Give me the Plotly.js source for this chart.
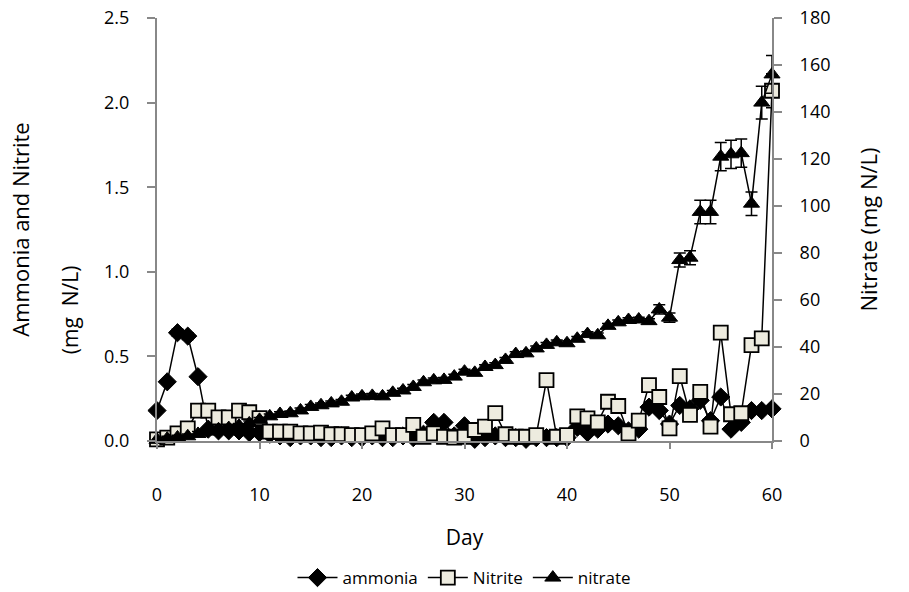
<!DOCTYPE html>
<html>
<head>
<meta charset="utf-8">
<script src="https://cdn.plot.ly/plotly-3.0.1.min.js"></script>
<style>html,body{margin:0;padding:0;background:#fff;}#chart{width:909px;height:592px;}</style>
</head>
<body>
<div id="chart"></div>
<script>
const days = [0,1,2,3,4,5,6,7,8,9,10,11,12,13,14,15,16,17,18,19,20,21,22,23,24,25,26,27,28,29,30,31,32,33,34,35,36,37,38,39,40,41,42,43,44,45,46,47,48,49,50,51,52,53,54,55,56,57,58,59,60];

const ammonia = [0.18,0.35,0.64,0.62,0.38,0.07,0.06,0.06,0.06,0.05,0.05,0.04,0.03,0.02,0.03,0.03,0.02,0.02,0.03,0.02,0.02,0.03,0.02,0.02,0.03,0.02,0.04,0.11,0.11,0.03,0.09,0.01,0.02,0.03,0.02,0.02,0.01,0.02,0.02,0.02,0.02,0.08,0.05,0.07,0.10,0.09,0.06,0.07,0.20,0.18,0.10,0.21,0.19,0.24,0.12,0.26,0.07,0.11,0.18,0.18,0.19];
const ammoniaErr = [0.01,0.01,0.02,0.02,0.01,0.01,0.01,0.01,0.01,0.01,0.01,0.01,0.01,0.01,0.01,0.01,0.01,0.01,0.01,0.01,0.01,0.01,0.01,0.01,0.01,0.01,0.01,0.01,0.01,0.01,0.01,0.01,0.01,0.01,0.01,0.01,0.01,0.01,0.01,0.01,0.01,0.01,0.01,0.01,0.01,0.01,0.01,0.01,0.01,0.01,0.01,0.01,0.01,0.01,0.01,0.01,0.01,0.01,0.01,0.01,0.01];

const nitrite = [0.01,0.02,0.045,0.075,0.18,0.18,0.14,0.14,0.18,0.17,0.135,0.055,0.055,0.055,0.045,0.045,0.05,0.04,0.04,0.035,0.035,0.045,0.075,0.035,0.035,0.095,0.025,0.045,0.025,0.02,0.025,0.065,0.085,0.165,0.04,0.025,0.025,0.035,0.36,0.025,0.035,0.145,0.134,0.11,0.232,0.207,0.045,0.12,0.33,0.26,0.075,0.384,0.154,0.29,0.085,0.64,0.158,0.164,0.567,0.607,2.07];
const nitriteErr = [0.01,0.01,0.01,0.01,0.01,0.01,0.01,0.01,0.01,0.01,0.01,0.01,0.01,0.01,0.01,0.01,0.01,0.01,0.01,0.01,0.01,0.01,0.01,0.01,0.01,0.01,0.01,0.01,0.01,0.01,0.01,0.01,0.01,0.01,0.01,0.01,0.01,0.01,0.01,0.01,0.01,0.01,0.01,0.01,0.01,0.01,0.01,0.01,0.01,0.01,0.01,0.01,0.01,0.01,0.01,0.01,0.01,0.01,0.02,0.03,0.10];

const nitrate = [0.5,1,1.5,2,3,4,5,5.5,6.5,7.5,9,10.5,11.5,11.8,13,14.5,15.2,16,16.7,18.5,19,19.2,19,20.5,21.5,23,25,25.8,26,27.4,29.5,29,31.5,32.3,34.5,37,37.3,39.4,40.9,42,41.6,43.5,45.5,45,49,50.5,51.5,51.7,51,56,52.5,77,78,97.5,97.5,121,122,122.5,101,144,156];
const nitrateErr = [1,1,1,1,1,1,1,1,1,1,1,1,1,1,1,1,1,1,1,1,1,1,1,1,1,1,1,1,1,1,1,1,1,1,1,1,1,1,1,1,1,1,1,1,1,1,1,1,1,2,2,3,3,5,5,6,6,6,5,7,8];

const leftTicks = [0,0.5,1,1.5,2,2.5];
const rightTicks = [0,20,40,60,80,100,120,140,160,180];
const xTicks = [0,10,20,30,40,50,60];

const FONT = "Open Sans, Lato, sans-serif";
const errStyle = {type:'data', visible:true, color:'#000', thickness:1.5, width:6};

const traces = [
  {x: days, y: ammonia, name: 'ammonia', type:'scatter', mode:'lines+markers', yaxis:'y', cliponaxis:false,
   line:{color:'#000', width:1.5},
   marker:{symbol:'diamond', size:14, color:'#000', line:{color:'#000', width:1}},
   error_y: Object.assign({array: ammoniaErr}, errStyle)},
  {x: days, y: nitrite, name: 'Nitrite', type:'scatter', mode:'lines+markers', yaxis:'y', cliponaxis:false,
   line:{color:'#000', width:1.5},
   marker:{symbol:'square', size:14, color:'#EDEBDF', line:{color:'#000', width:1.8}},
   error_y: Object.assign({array: nitriteErr}, errStyle)},
  {x: days, y: nitrate, name: 'nitrate', type:'scatter', mode:'lines+markers', yaxis:'y2', cliponaxis:false,
   line:{color:'#000', width:1.5},
   marker:{symbol:'triangle-up', size:14, color:'#000', line:{color:'#000', width:1}},
   error_y: Object.assign({array: nitrateErr}, errStyle)}
];

const layout = {
  width: 909, height: 592,
  margin: {l:157, r:137, t:18, b:151, autoexpand:false},
  paper_bgcolor:'#fff', plot_bgcolor:'#fff',
  font: {family: FONT, color:'#000', size:18},
  showlegend: true,
  legend: {orientation:'h', x:0.5, xanchor:'center', xref:'paper', y:0.0236, yanchor:'middle', yref:'container',
           font:{family:FONT, size:17, color:'#000'}, itemwidth:40, traceorder:'normal'},
  xaxis: {range:[0,60], tickvals:xTicks, ticktext:xTicks.map(String), automargin:false,
          showline:true, linecolor:'#888', linewidth:2, showgrid:false, zeroline:false,
          ticks:'outside', ticklen:6, tickcolor:'#888', tickwidth:2, ticklabelstandoff:30,
          tickfont:{family:FONT, size:18},
          title:{text:'Day', font:{family:FONT, size:21}, standoff:26}},
  yaxis: {range:[0,2.5], tickvals:leftTicks, ticktext:leftTicks.map(v=>v.toFixed(1)), automargin:false,
          showline:true, linecolor:'#888', linewidth:2, showgrid:false, zeroline:false,
          ticks:'outside', ticklen:8, tickcolor:'#888', tickwidth:2, ticklabelstandoff:14,
          tickfont:{family:FONT, size:18},
          title:{text:'Ammonia and Nitrite', font:{family:FONT, size:22}, standoff:68}},
  yaxis2: {range:[0,180], tickvals:rightTicks, ticktext:rightTicks.map(String), overlaying:'y', side:'right', automargin:false,
           showline:true, linecolor:'#888', linewidth:2, showgrid:false, zeroline:false,
           ticks:'outside', ticklen:8, tickcolor:'#888', tickwidth:2, ticklabelstandoff:14,
           tickfont:{family:FONT, size:18},
           title:{text:'Nitrate (mg N/L)', font:{family:FONT, size:22}, standoff:32}},
  annotations: [
    {text:'(mg  N/L)', xref:'paper', yref:'paper', x:-0.141, y:0.31, xanchor:'center', yanchor:'middle',
     textangle:-90, showarrow:false, font:{family:FONT, size:21, color:'#000'}}
  ]
};

Plotly.newPlot('chart', traces, layout, {displayModeBar:false, staticPlot:true});
</script>
</body>
</html>
